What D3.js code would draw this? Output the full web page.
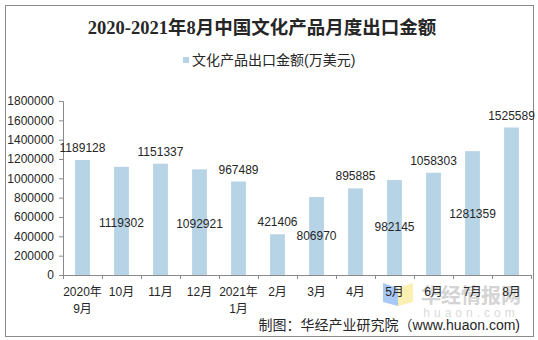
<!DOCTYPE html>
<html><head><meta charset="utf-8">
<script src="https://cdn.jsdelivr.net/npm/d3@7"></script>
<style>
html,body{margin:0;padding:0;background:#fff;}
svg{display:block;}
</style></head>
<body>
<svg id="c" width="538" height="340"></svg>
<script>
const categories = ["2020年\n9月","10月","11月","12月","2021年\n1月","2月","3月","4月","5月","6月","7月","8月"];
const values = [1189128,1119302,1151337,1092921,967489,421406,806970,895885,982145,1058303,1281359,1525589];
// where each value label's centre sits, in data units
const labelAt = [1314000,538000,1272000,528000,1086000,548000,403000,1024000,497000,1179000,631000,1645000];
const yTicks = [0,200000,400000,600000,800000,1000000,1200000,1400000,1600000,1800000];
const titleText = "2020-2021年8月中国文化产品月度出口金额";
const legendText = "文化产品出口金额(万美元)";
const sourceText = "制图：华经产业研究院（www.huaon.com)";

const svg = d3.select("#c");
const sans = "'Liberation Sans','Noto Sans CJK SC',Arial,sans-serif";
const barColor = "#b7d3e6";
const textColor = "#262626";

// outer frame
svg.append("rect").attr("x",5.5).attr("y",5.5).attr("width",528).attr("height",331)
  .attr("fill","#fff").attr("stroke","#8a8a8a").attr("stroke-width",1);

// title
svg.append("text").attr("x",262).attr("y",28).attr("text-anchor","middle")
  .attr("dominant-baseline","central")
  .style("font-family","'Liberation Serif','Noto Sans CJK SC',serif").style("font-weight","bold")
  .style("font-size","18.5px").attr("fill",textColor).text(titleText);

// legend
svg.append("rect").attr("x",183).attr("y",57).attr("width",6).attr("height",6).attr("fill",barColor);
svg.append("text").attr("x",192).attr("y",60).attr("dominant-baseline","central")
  .style("font-family",sans).style("font-size","14px").attr("fill",textColor).text(legendText);

const x = d3.scaleBand().domain(categories).range([63,531]).paddingInner(0.62).paddingOuter(0.31);
const xTickScale = d3.scaleBand().domain(categories).range([63,531]);
const y = d3.scaleLinear().domain([0,1800000]).range([275,101]);

// watermark logo (behind labels)
const wm = svg.append("g");
wm.append("polygon").attr("points","383,283 398,288 398,306 383,302").attr("fill","#a8c8f6");
wm.append("polygon").attr("points","398,288 413,283 413,302 398,306").attr("fill","#fcefb2");
wm.append("text").attr("x",471).attr("y",294).attr("text-anchor","middle").attr("dominant-baseline","central")
  .style("font-family","'Noto Sans CJK SC',sans-serif").style("font-weight","bold").style("font-size","20px")
  .attr("fill","#d4d4d4").text("华经情报网");
wm.append("text").attr("x",471).attr("y",313).attr("text-anchor","middle").attr("dominant-baseline","central")
  .style("font-family",sans).style("font-size","12px").style("letter-spacing","4px")
  .attr("fill","#dadada").text("huaon.com");

// bars
svg.append("g").selectAll("rect").data(values).join("rect")
  .attr("x",(d,i)=>x(categories[i])).attr("width",x.bandwidth())
  .attr("y",d=>y(d)).attr("height",d=>y(0)-y(d)).attr("fill",barColor);

// y axis
const yAxis = svg.append("g").attr("transform","translate(63,0)")
  .call(d3.axisLeft(y).tickValues(yTicks).tickFormat(d3.format("d")).tickSize(4).tickPadding(5));
yAxis.select(".domain").attr("stroke","#8a8a8a");
yAxis.selectAll(".tick line").attr("stroke","#8a8a8a");
yAxis.selectAll("text").style("font-family",sans).style("font-size","12px").attr("fill",textColor);

// x axis
const xAxis = svg.append("g").attr("transform","translate(0,275)")
  .call(d3.axisBottom(xTickScale).tickSize(0).tickFormat(""));
xAxis.select(".domain").attr("stroke","#8a8a8a");
xAxis.selectAll(".tick").remove();
// boundary tick marks
const bounds = categories.map(c=>xTickScale(c)).concat([xTickScale.range()[1]]);
svg.append("g").selectAll("line").data(bounds).join("line")
  .attr("x1",d=>d+0.5).attr("x2",d=>d+0.5).attr("y1",275).attr("y2",279).attr("stroke","#8a8a8a");
// category labels (multi-line)
const xl = svg.append("g").selectAll("text").data(categories).join("text")
  .attr("x",d=>xTickScale(d)+xTickScale.bandwidth()/2).attr("y",292)
  .attr("text-anchor","middle").attr("dominant-baseline","central")
  .style("font-family",sans).style("font-size","12px").attr("fill",textColor);
xl.each(function(d){
  const lines = d.split("\n");
  const t = d3.select(this);
  lines.forEach((ln,k)=>{
    t.append("tspan").attr("x",xTickScale(d)+xTickScale.bandwidth()/2).attr("y",292+k*17).text(ln);
  });
});

// value labels
svg.append("g").selectAll("text").data(values).join("text")
  .attr("x",(d,i)=>x(categories[i])+x.bandwidth()/2).attr("y",(d,i)=>y(labelAt[i]))
  .attr("text-anchor","middle").attr("dominant-baseline","central")
  .style("font-family",sans).style("font-size","12px").attr("fill",textColor).text(d=>d);

// source
svg.append("text").attr("x",520).attr("y",325).attr("text-anchor","end").attr("dominant-baseline","central")
  .style("font-family",sans).style("font-size","14px").attr("fill",textColor).text(sourceText);
</script>
</body></html>
